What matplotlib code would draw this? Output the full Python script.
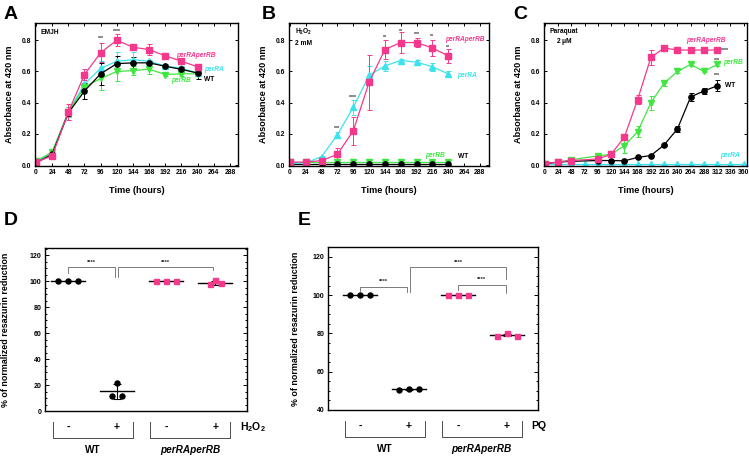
import numpy as np
import matplotlib
matplotlib.use("Agg")
import matplotlib.pyplot as plt
from matplotlib.ticker import MultipleLocator
from matplotlib.transforms import blended_transform_factory

plt.rcParams["font.family"] = ["Liberation Sans", "DejaVu Sans"]
plt.rcParams["font.weight"] = "bold"
plt.rcParams["axes.labelweight"] = "bold"
plt.rcParams["mathtext.default"] = "regular"

PINK = "#F5388C"
CYAN = "#3BE3EE"
GREEN = "#3FE63F"
BLACK = "black"

# ---- panel A : EMJH ----
hours_a = [0, 24, 48, 72, 96, 120, 144, 168, 192, 216, 240]
a_dko = [0.02, 0.06, 0.34, 0.58, 0.72, 0.80, 0.755, 0.74, 0.70, 0.665, 0.63]
a_dko_err = [0.005, 0.01, 0.05, 0.035, 0.06, 0.04, 0.01, 0.035, 0.02, 0.02, 0.01]
a_perra = [0.02, 0.08, 0.34, 0.52, 0.62, 0.665, 0.675, 0.665, 0.635, 0.62, 0.59]
a_perra_err = [0.005, 0.01, 0.03, 0.04, 0.05, 0.06, 0.05, 0.01, 0.01, 0.015, 0.02]
a_wt = [0.015, 0.07, 0.335, 0.475, 0.585, 0.65, 0.655, 0.655, 0.633, 0.613, 0.59]
a_wt_err = [0.005, 0.01, 0.02, 0.05, 0.07, 0.05, 0.04, 0.01, 0.01, 0.015, 0.04]
a_perrb = [0.025, 0.085, 0.34, 0.50, 0.555, 0.60, 0.605, 0.615, 0.58, 0.585, 0.585]
a_perrb_err = [0.005, 0.01, 0.03, 0.02, 0.075, 0.06, 0.03, 0.03, 0.01, 0.015, 0.01]
a_stars = [(96, 0.81, "***"), (120, 0.855, "****")]

# ---- panel B : H2O2 2 mM ----
hours_b = [0, 24, 48, 72, 96, 120, 144, 168, 192, 216, 240]
b_dko = [0.02, 0.02, 0.03, 0.07, 0.22, 0.53, 0.74, 0.785, 0.785, 0.75, 0.70]
b_dko_err = [0.005, 0.005, 0.005, 0.04, 0.09, 0.175, 0.06, 0.065, 0.03, 0.05, 0.045]
b_perra = [0.01, 0.015, 0.055, 0.195, 0.37, 0.575, 0.635, 0.67, 0.66, 0.63, 0.585]
b_perra_err = [0.005, 0.005, 0.005, 0.015, 0.05, 0.06, 0.03, 0.01, 0.015, 0.025, 0.02]
b_perrb = [0.02, 0.02, 0.02, 0.02, 0.02, 0.02, 0.02, 0.02, 0.02, 0.02, 0.02]
b_wt = [0.005, 0.005, 0.005, 0.005, 0.005, 0.005, 0.005, 0.005, 0.005, 0.005, 0.005]
b_stars = [(72, 0.236, "***"), (96, 0.433, "****"), (144, 0.815, "**"),
           (168, 0.858, "**"), (192, 0.836, "***"), (216, 0.826, "**"),
           (240, 0.755, "**")]

# ---- panel C : paraquat 2 uM ----
hours_c = [0, 24, 48, 96, 120, 144, 168, 192, 216, 240, 264, 288, 312]
c_dko = [0.01, 0.02, 0.03, 0.04, 0.07, 0.18, 0.42, 0.69, 0.75, 0.737, 0.737, 0.737, 0.737]
c_dko_err = [0, 0, 0, 0, 0.005, 0.02, 0.03, 0.05, 0.02, 0.012, 0.008, 0.008, 0.008]
c_perrb = [0.01, 0.02, 0.035, 0.06, 0.07, 0.125, 0.215, 0.40, 0.525, 0.60, 0.645, 0.60, 0.645]
c_perrb_err = [0, 0, 0, 0.005, 0.005, 0.05, 0.035, 0.045, 0.015, 0.008, 0.008, 0.005, 0.008]
c_wt = [0.01, 0.02, 0.025, 0.03, 0.03, 0.028, 0.05, 0.062, 0.13, 0.232, 0.437, 0.475, 0.508]
c_wt_err = [0, 0, 0, 0, 0, 0, 0.005, 0.005, 0.005, 0.02, 0.025, 0.02, 0.035]
hours_c_perra = [0, 24, 48, 72, 96, 120, 144, 168, 192, 216, 240, 264, 288, 312, 336, 360]
c_perra = [0.008] * 16
c_stars = [(312, 0.67, "***"), (312, 0.575, "***")]

# ---- panel D / E : resazurin ----
conditions = ["-", "+", "-", "+"]
strains = ["WT", "perRAperRB"]
d_wt_minus = [100, 100, 100]
d_wt_plus = [11.5, 21.8, 11.8]
d_dko_minus = [100, 100, 100]
d_dko_plus = [97.5, 100.5, 98.5]
e_wt_minus = [100, 100, 100]
e_wt_plus = [50.6, 51.1, 51.1]
e_dko_minus = [100, 100, 100]
e_dko_plus = [78.8, 80.0, 78.8]


def growth_panel(ax, curves, xmax, tick_max):
    for hours, y, err, color, marker in curves:
        ax.errorbar(hours, y, yerr=err, color=color, marker=marker, ms=3.8,
                    lw=0.9, elinewidth=0.7, capsize=1.8, capthick=0.7)
    ax.set_xlim(-1.5, xmax)
    ax.set_ylim(-0.005, 0.91)
    ax.set_xticks(np.arange(0, tick_max + 1, 24))
    ax.set_yticks([0.0, 0.2, 0.4, 0.6, 0.8])
    ax.yaxis.set_major_formatter(plt.FormatStrFormatter("%.1f"))
    ax.tick_params(direction="in", top=True, right=True, labelsize=4.9,
                   length=2.5, width=0.7, pad=2.5)
    for s in ax.spines.values():
        s.set_linewidth(1.0)
    ax.set_xlabel("Time (hours)", fontsize=6.6, labelpad=7)
    ax.set_ylabel("Absorbance at 420 nm", fontsize=6.6, labelpad=6)


def stars(ax, items, ha="center"):
    for x, y, s in items:
        ax.text(x, y, s, fontsize=3.8, ha=ha, va="center", color="0.2")


def lab(ax, x, y, s, color, italic=True):
    ax.text(x, y, s, fontsize=4.8, color=color, va="center", ha="left",
            style="italic" if italic else "normal", fontweight="bold")


W, H = 749, 459
fig = plt.figure(figsize=(W / 100, H / 100), dpi=100)


def box(l, t, r, b):
    return [l / W, 1 - b / H, (r - l) / W, (b - t) / H]


# A
axA = fig.add_axes(box(35, 23, 238, 166))
growth_panel(axA, [
    (hours_a, a_perra, a_perra_err, CYAN, "^"),
    (hours_a, a_perrb, a_perrb_err, GREEN, "v"),
    (hours_a, a_wt, a_wt_err, BLACK, "o"),
    (hours_a, a_dko, a_dko_err, PINK, "s"),
], 300, 288)
stars(axA, a_stars)
axA.text(6, 0.85, "EMJH", fontsize=4.8, va="center")
lab(axA, 208, 0.705, "perRAperRB", PINK)
lab(axA, 249, 0.61, "perRA", CYAN)
lab(axA, 201, 0.545, "perRB", GREEN)
lab(axA, 249, 0.55, "WT", BLACK, italic=False)

# B
axB = fig.add_axes(box(289, 23, 489, 166))
growth_panel(axB, [
    (hours_b, b_perrb, None, GREEN, "v"),
    (hours_b, b_wt, None, BLACK, "o"),
    (hours_b, b_perra, b_perra_err, CYAN, "^"),
    (hours_b, b_dko, b_dko_err, PINK, "s"),
], 302, 288)
stars(axB, b_stars)
axB.text(8, 0.85, "H$_2$O$_2$", fontsize=4.8, va="center")
axB.text(8, 0.78, "2 mM", fontsize=4.8, va="center")
lab(axB, 235, 0.805, "perRAperRB", PINK)
lab(axB, 254, 0.573, "perRA", CYAN)
lab(axB, 205, 0.065, "perRB", GREEN)
lab(axB, 255, 0.054, "WT", BLACK, italic=False)

# C
axC = fig.add_axes(box(544, 23, 747, 166))
growth_panel(axC, [
    (hours_c_perra, c_perra, None, CYAN, "^"),
    (hours_c, c_perrb, c_perrb_err, GREEN, "v"),
    (hours_c, c_wt, c_wt_err, BLACK, "o"),
    (hours_c, c_dko, c_dko_err, PINK, "s"),
], 366, 360)
stars(axC, c_stars)
stars(axC, [(318, 0.737, "****")], ha="left")
axC.text(9, 0.855, "Paraquat", fontsize=4.8, va="center")
axC.text(20, 0.79, "2 $\\mu$M", fontsize=4.8, va="center")
lab(axC, 255, 0.80, "perRAperRB", PINK)
lab(axC, 323, 0.655, "perRB", GREEN)
lab(axC, 327, 0.51, "WT", BLACK, italic=False)
lab(axC, 317, 0.065, "perRA", CYAN)


def resazurin_panel(ax, groups, ylim, ylow, treat, pad):
    for x, (vals, color, marker, spread) in enumerate(groups, start=1):
        vals = np.array(vals, dtype=float)
        m, sd = vals.mean(), vals.std(ddof=1)
        ax.errorbar([x], [m], yerr=[sd], color=BLACK, lw=0, elinewidth=0.8,
                    capsize=2.6, capthick=0.8, zorder=3)
        ax.plot([x - 0.34, x + 0.34], [m, m], color=BLACK, lw=1.0, zorder=3)
        ax.plot(x + np.array([-spread, 0, spread]), vals, ls="none",
                marker=marker, color=color, ms=3.6, zorder=4)
    ax.set_ylim(*ylim)
    ax.set_xticks([])
    ax.yaxis.set_minor_locator(MultipleLocator(5))
    ax.set_yticks(np.arange(ylow, 121, 20))
    ax.tick_params(axis="y", which="both", direction="in", left=True,
                   right=True, labelsize=5.0, width=0.7, pad=2.5)
    ax.tick_params(axis="y", which="major", length=2.8)
    ax.tick_params(axis="y", which="minor", length=1.6)
    for s in ax.spines.values():
        s.set_linewidth(1.0)
    ax.set_ylabel("% of normalized resazurin reduction", fontsize=6.4,
                  labelpad=pad)
    tr = blended_transform_factory(ax.transData, ax.transAxes)
    for x, c in enumerate(conditions, start=1):
        ax.text(x, -0.098, c, transform=tr, ha="center", va="center",
                fontsize=7.5, clip_on=False)
    ax.text(4.5, -0.098, treat, transform=tr, ha="left", va="center",
            fontsize=7.5, clip_on=False)
    for (x1, x2), s in zip([(0.69, 2.33), (2.67, 4.3)], strains):
        ax.plot([x1, x1, x2, x2], [-0.067, -0.166, -0.166, -0.067],
                transform=tr, color="0.3", lw=0.7, clip_on=False)
        ax.text((x1 + x2) / 2, -0.24, s, transform=tr, ha="center",
                va="center", fontsize=7.2, clip_on=False,
                style="normal" if s == "WT" else "italic")


def sig(ax, x1, x2, y, y1, y2, ty):
    ax.plot([x1, x1, x2, x2], [y1, y, y, y2], color="0.4", lw=0.6)
    ax.text((x1 + x2) / 2, ty, "****", fontsize=4.2, ha="center",
            va="center", color="0.15")


# D
axD = fig.add_axes(box(45, 248, 247, 411))
resazurin_panel(axD, [
    (d_wt_minus, BLACK, "o", 0.2),
    (d_wt_plus, BLACK, "o", 0.11),
    (d_dko_minus, PINK, "s", 0.21),
    (d_dko_plus, PINK, "s", 0.11),
], (0, 125.4), 0, "H$_2$O$_2$", 14)
axD.set_xlim(0.53, 4.65)
sig(axD, 1.0, 1.96, 110.5, 105.9, 102.8, 114.6)
sig(axD, 2.02, 3.96, 110.5, 102.8, 108.2, 114.6)

# E
axE = fig.add_axes(box(328, 247, 538, 410))
resazurin_panel(axE, [
    (e_wt_minus, BLACK, "o", 0.2),
    (e_wt_plus, BLACK, "o", 0.2),
    (e_dko_minus, PINK, "s", 0.2),
    (e_dko_plus, PINK, "s", 0.2),
], (40, 125.2), 40, "PQ", 9)
axE.set_xlim(0.35, 4.63)
sig(axE, 1.0, 1.97, 104.4, 102.3, 101.7, 107.2)
sig(axE, 2.02, 3.98, 114.5, 101.8, 108.7, 117.0)
sig(axE, 2.99, 3.98, 105.2, 102.6, 100.9, 108.0)

for x, y, s in [(4, 6, "A"), (262, 6, "B"), (513, 6, "C"), (4, 212, "D"),
                (298, 212, "E")]:
    fig.text(x / W, 1 - y / H, s, fontsize=14, fontweight="bold",
             va="top", ha="left")

fig.savefig("out.png", dpi=100)
